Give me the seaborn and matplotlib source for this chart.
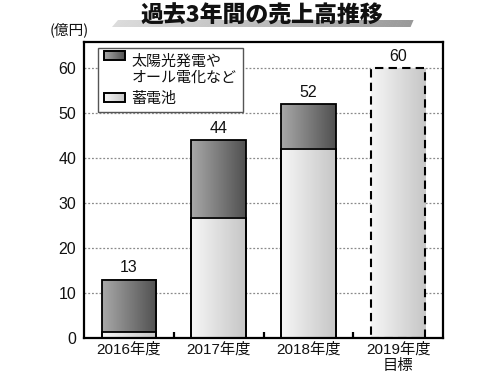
import numpy as np
import pandas as pd
import matplotlib
matplotlib.use("Agg")
import matplotlib.pyplot as plt
import seaborn as sns
from matplotlib.patches import Rectangle, Polygon
from matplotlib.legend_handler import HandlerBase
from matplotlib.image import BboxImage
from matplotlib.transforms import Bbox, TransformedBbox

# ---- data ----
years = ["2016年度", "2017年度", "2018年度", "2019年度\n目標"]
total = [13, 44, 52, 60]
battery = [1.3, 26.7, 42.1, 0]
is_target = [False, False, False, True]
yticks = [0, 10, 20, 30, 40, 50, 60]
title = "過去3年間の売上高推移"
unit = "(億円)"
legend_labels = ["太陽光発電や\nオール電化など", "蓄電池"]

sns.set_theme(style="white")
FONT = ["Liberation Sans", "Noto Sans CJK JP", "DejaVu Sans"]
CJK = ["Noto Sans CJK JP", "DejaVu Sans"]
plt.rcParams["font.family"] = FONT

DARK = ("#a9a9a9", "#505050")
LIGHT = ("#f6f6f6", "#c6c6c6")


def grad(c0, c1, n=256):
    a = np.array(matplotlib.colors.to_rgb(c0))
    b = np.array(matplotlib.colors.to_rgb(c1))
    t = np.linspace(0, 1, n)[:, None]
    return (a + (b - a) * t)[None, :, :]


fig = plt.figure(figsize=(5, 3.75), dpi=100)
H = 375

# decoration: title underline bar (gradient strips, in figure pixel coords)
n_strips = 80
xl_top, xr_top, xl_bot, xr_bot, yt, yb = 118, 413, 112, 410, 20, 27
cols = grad("#dcdcdc", "#9a9a9a", n_strips)[0]
for k in range(n_strips):
    f0, f1 = k / n_strips, (k + 1) / n_strips
    pts = [(xl_bot + (xr_bot - xl_bot) * f0, yb), (xl_top + (xr_top - xl_top) * f0, yt),
           (xl_top + (xr_top - xl_top) * f1 + 0.6, yt), (xl_bot + (xr_bot - xl_bot) * f1 + 0.6, yb)]
    pts = [(px / 500, 1 - py / H) for px, py in pts]
    fig.add_artist(Polygon(pts, closed=True, facecolor=cols[k], edgecolor="none",
                           transform=fig.transFigure, zorder=1))

ax = fig.add_axes([84 / 500, 1 - 338 / 375, (443 - 84) / 500, (338 - 42) / 375])

df = pd.DataFrame({"year": years, "total": total, "battery": battery})
sns.barplot(data=df, x="year", y="total", color=DARK[1], width=0.61,
            edgecolor="black", linewidth=1.3, ax=ax)
sns.barplot(data=df, x="year", y="battery", color=LIGHT[1], width=0.61,
            edgecolor="black", linewidth=1.3, ax=ax)

tot_bars = ax.containers[0]
bat_bars = ax.containers[1]

for i, p in enumerate(tot_bars.patches):
    c = LIGHT if is_target[i] else DARK
    x0, y0 = p.get_x(), p.get_y()
    w, h = p.get_width(), p.get_height()
    ax.imshow(grad(*c), extent=(x0, x0 + w, y0, y0 + h), aspect="auto",
              interpolation="bilinear", zorder=2)
    p.set_facecolor("none")
    p.set_zorder(3)
    if is_target[i]:
        p.set_linestyle((0, (4, 2.5)))
        p.set_linewidth(1.5)

for i, p in enumerate(bat_bars.patches):
    if is_target[i] or battery[i] <= 0:
        p.set_visible(False)
        continue
    x0, y0 = p.get_x(), p.get_y()
    w, h = p.get_width(), p.get_height()
    ax.imshow(grad(*LIGHT), extent=(x0, x0 + w, y0, y0 + h), aspect="auto",
              interpolation="bilinear", zorder=2.5)
    p.set_facecolor("none")
    p.set_zorder(3.5)

ax.bar_label(tot_bars, labels=[str(v) for v in total], padding=3,
             fontsize=11.5, color="#111111")

ax.set_xlim(-0.5, 3.5)
ax.set_ylim(0, 65.8)
ax.set_yticks(yticks)
ax.set_xlabel("")
ax.set_ylabel("")
ax.set_axisbelow(True)
ax.yaxis.grid(True, color="#8a8a8a", linestyle=(0, (1.5, 1.5)), linewidth=0.9, zorder=0)
ax.xaxis.grid(False)
for s in ax.spines.values():
    s.set_visible(True)
    s.set_color("black")
    s.set_linewidth(1.6)

ax.tick_params(axis="y", length=0, pad=5.5, labelsize=11.5, labelcolor="#111111")
ax.tick_params(axis="x", length=0, pad=3, labelsize=11, labelcolor="#111111")
ax.set_xticks([0.5, 1.5, 2.5], minor=True)
ax.tick_params(axis="x", which="minor", direction="in", length=4, width=1.6,
               color="black", bottom=True)
for lab in ax.get_xticklabels():
    lab.set_linespacing(1.25)


class GradHandler(HandlerBase):
    def __init__(self, c0, c1, yshift=0.0):
        super().__init__()
        self.c0, self.c1, self.yshift = c0, c1, yshift

    def create_artists(self, legend, orig_handle, xdescent, ydescent,
                       width, height, fontsize, trans):
        x0, y0 = -xdescent, -ydescent + self.yshift
        bb = TransformedBbox(Bbox.from_bounds(x0, y0, width, height), trans)
        img = BboxImage(bb, interpolation="bilinear")
        img.set_data(grad(self.c0, self.c1))
        rect = Rectangle((x0, y0), width, height, fill=False,
                         edgecolor="black", lw=1.4, transform=trans)
        return [img, rect]


h_dark = Rectangle((0, 0), 1, 1)
h_light = Rectangle((0, 0), 1, 1)
leg = ax.legend([h_dark, h_light], legend_labels,
                handler_map={h_dark: GradHandler(*DARK, yshift=10.8),
                             h_light: GradHandler(*LIGHT)},
                loc="upper left", bbox_to_anchor=(0.038, 0.9787),
                prop={"family": CJK, "size": 10.8}, frameon=True, fancybox=False,
                edgecolor="#555555", framealpha=1, borderpad=0.45,
                handlelength=1.4, handleheight=0.55, handletextpad=0.4,
                labelspacing=0.45, borderaxespad=0)
leg.get_frame().set_linewidth(1.0)
for t in leg.get_texts():
    t.set_linespacing(1.15)
    t.set_color("#111111")
leg.set_zorder(10)

fig.text(0.524, 1 - 22.5 / H, title, ha="center", va="baseline", fontsize=16.5,
         fontweight="heavy", color="#111111", family=CJK, zorder=3)
fig.text(0.1, 0.92, unit, ha="left", va="center", fontsize=10.5,
         color="#111111", family=CJK)

fig.savefig("out.png", dpi=100)
